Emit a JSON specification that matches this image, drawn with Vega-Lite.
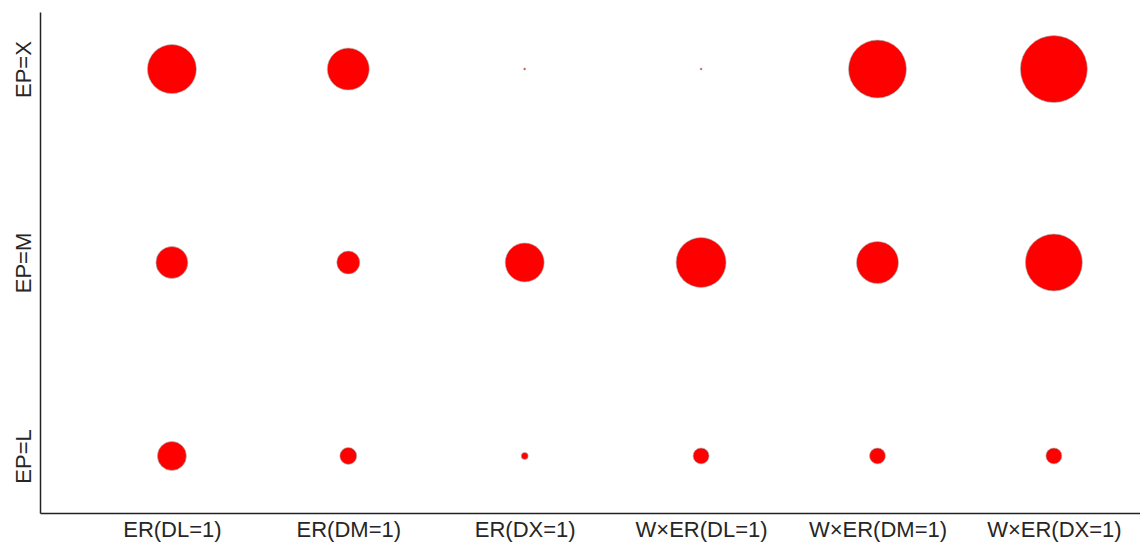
{
  "$schema": "https://vega.github.io/schema/vega-lite/v6.json",
  "autosize": {"type": "none"},
  "padding": {"left": 40, "top": 12, "right": 0, "bottom": 32},
  "width": 1100,
  "height": 501,
  "background": "white",
  "config": {"view": {"stroke": null}, "font": "Liberation Sans"},
  "data": {
    "values": [
      {"method": "ER(DL=1)", "ep": "EP=X", "value": 0.535},
      {"method": "ER(DM=1)", "ep": "EP=X", "value": 0.393},
      {"method": "ER(DX=1)", "ep": "EP=X", "value": 0.001},
      {"method": "W×ER(DL=1)", "ep": "EP=X", "value": 0.001},
      {"method": "W×ER(DM=1)", "ep": "EP=X", "value": 0.749},
      {"method": "W×ER(DX=1)", "ep": "EP=X", "value": 1.0},
      {"method": "ER(DL=1)", "ep": "EP=M", "value": 0.228},
      {"method": "ER(DM=1)", "ep": "EP=M", "value": 0.118},
      {"method": "ER(DX=1)", "ep": "EP=M", "value": 0.339},
      {"method": "W×ER(DL=1)", "ep": "EP=M", "value": 0.557},
      {"method": "W×ER(DM=1)", "ep": "EP=M", "value": 0.393},
      {"method": "W×ER(DX=1)", "ep": "EP=M", "value": 0.724},
      {"method": "ER(DL=1)", "ep": "EP=L", "value": 0.187},
      {"method": "ER(DM=1)", "ep": "EP=L", "value": 0.064},
      {"method": "ER(DX=1)", "ep": "EP=L", "value": 0.011},
      {"method": "W×ER(DL=1)", "ep": "EP=L", "value": 0.057},
      {"method": "W×ER(DM=1)", "ep": "EP=L", "value": 0.057},
      {"method": "W×ER(DX=1)", "ep": "EP=L", "value": 0.057}
    ]
  },
  "mark": {"type": "circle", "color": "#ff0000", "opacity": 1, "stroke": "#9fc4c4", "strokeWidth": 0.6},
  "encoding": {
    "x": {
      "field": "method", "type": "nominal",
      "sort": ["ER(DL=1)", "ER(DM=1)", "ER(DX=1)", "W×ER(DL=1)", "W×ER(DM=1)", "W×ER(DX=1)"],
      "scale": {"type": "point", "padding": 0.618, "align": 0.605},
      "axis": {"title": null, "ticks": false, "grid": false, "labelAngle": 0, "labelFontSize": 22, "labelColor": "#262626", "labelPadding": 6, "labelBaseline": "top", "domainColor": "#222", "domainWidth": 1.5}
    },
    "y": {
      "field": "ep", "type": "nominal",
      "sort": ["EP=X", "EP=M", "EP=L"],
      "scale": {"type": "point", "padding": 0.295},
      "axis": {"title": null, "ticks": false, "grid": false, "labelAngle": -90, "labelAlign": "center", "labelBaseline": "bottom", "labelFontSize": 22, "labelColor": "#262626", "labelPadding": 5, "domainColor": "#222", "domainWidth": 1.5}
    },
    "size": {
      "field": "value", "type": "quantitative",
      "scale": {"type": "linear", "domain": [0, 1], "range": [0, 4489], "zero": true},
      "legend": null
    }
  }
}
